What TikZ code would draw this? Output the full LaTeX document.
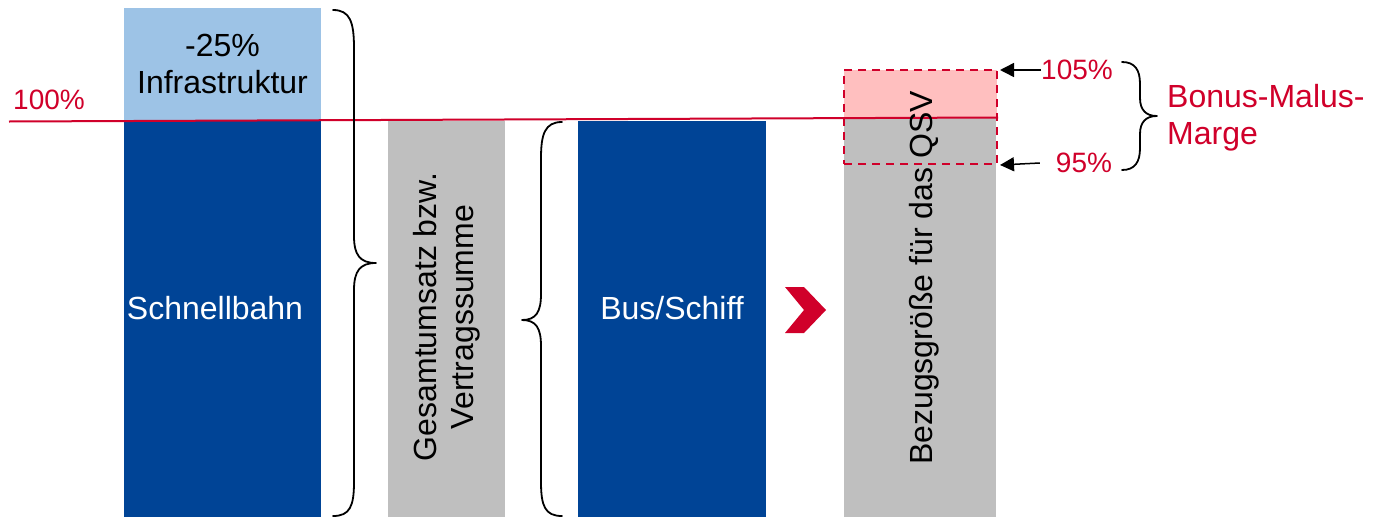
\documentclass[tikz,border=0pt]{standalone}
\usepackage{fontspec}
\setmainfont{Liberation Sans}
\usetikzlibrary{arrows.meta}
\definecolor{navy}{RGB}{0,68,150}
\definecolor{sky}{RGB}{157,195,230}
\definecolor{grey}{RGB}{191,191,191}
\definecolor{crimson}{RGB}{208,0,42}
\definecolor{rose}{RGB}{255,191,191}
\begin{document}
\begin{tikzpicture}[x=1pt,y=-1pt,
  bar/.style={inner sep=0pt, outer sep=0pt},
  lbl/.style={font=\fontsize{32}{37}\selectfont, inner sep=0pt, align=center},
  pct/.style={font=\fontsize{28}{32}\selectfont, text=crimson, inner sep=0pt},
  curly/.style={line width=1.8pt, line join=round, line cap=round},
  pointer/.style={line width=1.5pt, -{Triangle[length=14pt,width=14pt]}},
  limit/.style={draw=crimson, line width=2pt, dash pattern=on 8pt off 6pt},
  baseline100/.style={draw=crimson, line width=2pt}]
\useasboundingbox (0,0) rectangle (1378,517);

% bars
\node[bar, fill=sky, minimum width=197pt, minimum height=112pt] (infra) at (222.5,64) {};
\node[bar, fill=navy, minimum width=197pt, minimum height=396pt] (sb) at (222.5,319) {};
\node[bar, fill=grey, minimum width=117pt, minimum height=396pt] (ges) at (446.5,319) {};
\node[bar, fill=navy, minimum width=188pt, minimum height=396pt] (bus) at (672,319) {};
\node[bar, fill=grey, minimum width=152pt, minimum height=399pt] (bez) at (920,317.5) {};
\node[bar, fill=rose, minimum width=153pt, minimum height=48pt] (bonus) at (920.5,94) {};

% 100 % reference line
\coordinate (l0) at (9,121.5);
\coordinate (l1) at (998,117.5);
\draw[baseline100] (l0) -- (l1);
\node[pct] (p100) at (49,100) {100\%};

% texts in the bars
\node[lbl] (tinfra) at (infra.center) {-25\%\\Infrastruktur};
\node[lbl, text=white] (tsb) at (215,308) {Schnellbahn};
\node[lbl, rotate=90] (tges) at (447,317) {Gesamtumsatz bzw.\\Vertragssumme};
\node[lbl, text=white] (tbus) at (672,308) {Bus/Schiff};
\node[lbl, rotate=90] (tbez) at (924,278) {Bezugsgröße für das QSV};

% band of the bonus/malus margin
\node[bar, limit, minimum width=153pt, minimum height=94pt] (band) at (920.5,117) {};

% braces
\draw[curly] (333,10) .. controls (350,10) and (354,22) .. (354,48)
  -- (354,236) .. controls (354,255) and (360,263) .. (376,263)
  .. controls (360,263) and (354,271) .. (354,290)
  -- (354,482) .. controls (354,506) and (350,516) .. (333,516);
\draw[curly] (562,122) .. controls (545,122) and (541,134) .. (541,158)
  -- (541,294) .. controls (541,312) and (536,320) .. (522,320)
  .. controls (536,320) and (541,328) .. (541,346)
  -- (541,482) .. controls (541,506) and (545,516) .. (562,516);
\draw[curly] (1122,62) .. controls (1135,62) and (1140,70) .. (1140,84)
  -- (1140,98) .. controls (1140,110) and (1146,116) .. (1157,116)
  .. controls (1146,116) and (1140,122) .. (1140,134)
  -- (1140,148) .. controls (1140,162) and (1135,170) .. (1122,170);

% margin labels and pointers
\node[pct] (p105) at (1077,70) {105\%};
\node[pct] (p95) at (1084,163) {95\%};
\draw[pointer] (p105.west) -- ([xshift=3pt]band.north east);
\draw[pointer] ([xshift=-16pt]p95.west) -- ([xshift=3pt,yshift=-1pt]band.south east);
\node[lbl, text=crimson, align=left, anchor=west] (bm) at (1167,117.5) {Bonus-Malus-\\Marge};

% chevron
\fill[crimson] (785,287) -- (804,287) -- (826,310) -- (804,333) -- (785,333) -- (804,310) -- cycle;
\end{tikzpicture}
\end{document}
